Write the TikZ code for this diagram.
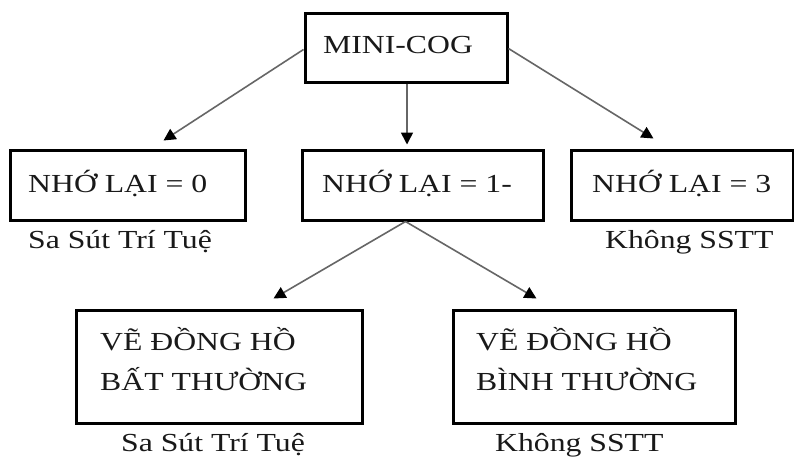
\documentclass[tikz,border=0pt]{standalone}
\usepackage{fontspec}
\setmainfont{Liberation Serif}[FakeStretch=1.22]
\usetikzlibrary{arrows.meta,calc,positioning}

\tikzset{
  boxnode/.style={draw=black, line width=3pt, rectangle, inner sep=0pt},
  txt/.style={anchor=base west, inner sep=0pt, text=black!90,
              font=\fontsize{26}{40}\selectfont},
  link/.style={draw=black!60, line width=1.6pt,
               -{Triangle[length=12pt,width=12pt,color=black]}},
}

\begin{document}
\begin{tikzpicture}[x=1pt, y=-1pt]
  \useasboundingbox (0,0) rectangle (794,456);
  \fill[white] (0,0) rectangle (794,456);

  % boxes
  \node[boxnode, minimum width=202pt, minimum height=69pt] (top) at (406,47.5) {};
  \node[boxnode, minimum width=235pt, minimum height=70pt] (m0)  at (127.5,185) {};
  \node[boxnode, minimum width=241pt, minimum height=70pt] (m1)  at (422.5,185) {};
  \node[boxnode, minimum width=222pt, minimum height=70pt] (m2)  at (682,185) {};
  \node[boxnode, minimum width=286pt, minimum height=113pt] (b0) at (219,366.5) {};
  \node[boxnode, minimum width=282pt, minimum height=113pt] (b1) at (594,366.5) {};

  % box texts
  \node[txt] (ttop) at (323,53)  {MINI-COG};
  \node[txt] (tm0)  at (28,192)  {NHỚ LẠI = 0};
  \node[txt] (tm1)  at (322,192) {NHỚ LẠI = 1-};
  \node[txt] (tm2)  at (592,192) {NHỚ LẠI = 3};
  \node[txt] (tb0a) at (100,350) {VẼ ĐỒNG HỒ};
  \node[txt] (tb0b) at (100,390) {BẤT THƯỜNG};
  \node[txt] (tb1a) at (476,350) {VẼ ĐỒNG HỒ};
  \node[txt] (tb1b) at (476,390) {BÌNH THƯỜNG};

  % captions
  \node[txt] (c0) at (28,248)  {Sa Sút Trí Tuệ};
  \node[txt] (c2) at (605,248) {Không SSTT};
  \node[txt] (c3) at (121,451) {Sa Sút Trí Tuệ};
  \node[txt] (c4) at (495,451) {Không SSTT};

  % arrow ends
  \coordinate (a0) at ($(m0.north west)+(155,-8)$);
  \coordinate (a2) at ($(m2.north west)+(84,-10)$);
  \coordinate (a1) at ($(top.south)+(1,0)$);
  \coordinate (e1) at ($(a1 |- m1.north)+(0,-4)$);
  \coordinate (s1) at ($(m1.south west)+(105,0)$);
  \coordinate (a3) at ($(b0.north west)+(199,-10)$);
  \coordinate (a4) at ($(b1.north west)+(85,-10)$);

  % connectors
  \draw[link] ($(top.west)+(0,2)$) -- (a0);
  \draw[link] (a1) -- (e1);
  \draw[link] ($(top.east)+(0,1)$) -- (a2);
  \draw[link] (s1) -- (a3);
  \draw[link] (s1) -- (a4);
\end{tikzpicture}
\end{document}
